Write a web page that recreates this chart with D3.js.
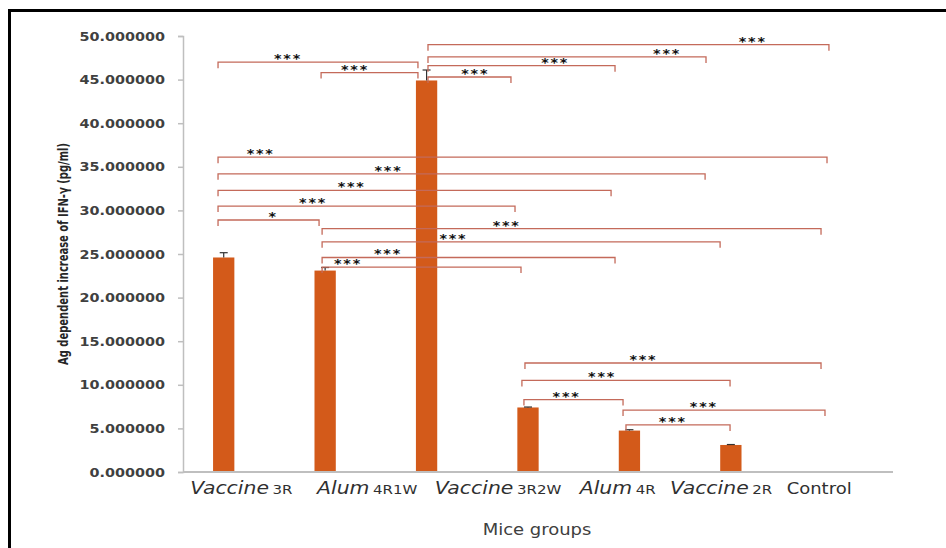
<!DOCTYPE html>
<html><head><meta charset="utf-8">
<script src="https://cdn.jsdelivr.net/npm/d3@7"></script>
<style>html,body{margin:0;padding:0;background:#fff;} svg{display:block}</style>
</head><body><svg id="chart" width="946" height="548"></svg>
<script>
// ---- data ----
const groups = ["G1", "G2", "G3", "G4", "G5", "G6", "G7"];
const means  = [24.6, 23.1, 44.9, 7.4, 4.75, 3.1, 0];
const errors = [0.55, 0.35, 1.2, 0.05, 0.1, 0.05, 0];
const yTicks = [0, 5, 10, 15, 20, 25, 30, 35, 40, 45, 50];
const labelMain   = ["Vaccine", "Alum", "Vaccine", "Alum", "Vaccine", "Control"];
const labelSuffix = ["3R", "4R1W", "3R2W", "4R", "2R", ""];
const labelItalic = [true, true, true, true, true, false];
const labelSlot   = [0.17, 1.42, 2.58, 4.01, 4.90, 6.05];
const bracketFrom  = [0, 1, 2, 2, 2, 2, 0, 0, 0, 0, 0, 1, 1, 1, 1, 3, 3, 3, 4, 4];
const bracketTo    = [2, 2, 6, 5, 4, 3, 6, 5, 4, 3, 1, 6, 5, 4, 3, 6, 5, 4, 6, 5];
const bracketLevel = [47.0, 45.8, 49.0, 47.6, 46.6, 45.3, 36.1, 34.2, 32.3, 30.5, 28.9, 27.9, 26.4, 24.6, 23.5, 12.5, 10.5, 8.3, 7.1, 5.4];
const bracketStars = ["***","***","***","***","***","***","***","***","***","***","*","***","***","***","***","***","***","***","***","***"];
// annotation layout (slot units): small end offsets and star placement along each bracket
const bracketFromShift = [-0.056, -0.04, 0.014, 0.014, 0.014, 0.014, -0.056, -0.056, -0.056, -0.056, -0.056, -0.03, -0.03, -0.03, -0.03, -0.03, -0.06, -0.04, -0.063, -0.034];
const bracketToShift   = [-0.085, -0.085, -0.033, -0.245, -0.142, -0.168, -0.052, -0.254, -0.181, -0.128, -0.06, -0.111, -0.106, -0.142, -0.069, -0.111, -0.008, -0.063, -0.072, -0.008];
const bracketStarAt = [0.35, 0.35, 0.81, 0.86, 0.68, 0.57, 0.07, 0.35, 0.34, 0.32, 0.545, 0.37, 0.33, 0.225, 0.13, 0.40, 0.385, 0.43, 0.40, 0.45];
const yTitle = "Ag dependent increase of IFN-\u03b3 (pg/ml)";
const xTitle = "Mice groups";

// ---- layout ----
const svg = d3.select("#chart");
const stretch = 1.2;
const axisX0 = 183, axisX1 = 893;
const x = d3.scaleBand().domain(groups).range([173, 883]).padding(0);
const slotX = d3.scaleLinear().domain([0, groups.length]).range([173, 883]);
const y = d3.scaleLinear().domain([0, 50]).range([472, 36]);
const barW = x.bandwidth() * 0.21;
const cx = i => x(groups[i]) + x.bandwidth() / 2;

// frame
svg.append("rect").attr("x", 9.5).attr("y", 10.5).attr("width", 1000).attr("height", 1000)
  .attr("fill", "none").attr("stroke", "#000").attr("stroke-width", 3);

// y axis
const yAxis = d3.axisLeft(y).tickValues(yTicks).tickFormat(d3.format(".6f")).tickSize(5).tickPadding(13);
const gy = svg.append("g").attr("transform", `translate(${axisX0},0)`).call(yAxis);
gy.select(".domain").attr("stroke", "#bfbfbf").attr("stroke-width", 1.5);
gy.selectAll(".tick line").attr("stroke", "#bfbfbf").attr("stroke-width", 1.5);
gy.selectAll(".tick text")
  .attr("font-family", "DejaVu Sans, sans-serif").attr("font-weight", "bold")
  .attr("font-size", 12).attr("fill", "#404040")
  .attr("x", null).attr("dy", null)
  .attr("dominant-baseline", "central")
  .attr("transform", `translate(-18,0) scale(${stretch},1)`);

// bars
svg.append("g").selectAll("rect").data(means).join("rect")
  .attr("x", (d, i) => cx(i) - barW / 2)
  .attr("width", barW)
  .attr("y", d => y(d))
  .attr("height", d => y(0) - y(d))
  .attr("fill", "#d35a1a");

// error bars
const eg = svg.append("g").attr("stroke", "#333").attr("stroke-width", 1.2);
means.forEach((m, i) => {
  if (errors[i] <= 0) return;
  eg.append("line").attr("x1", cx(i)).attr("x2", cx(i)).attr("y1", y(m)).attr("y2", y(m + errors[i]));
  eg.append("line").attr("x1", cx(i) - 4).attr("x2", cx(i) + 4).attr("y1", y(m + errors[i])).attr("y2", y(m + errors[i]));
});

// x axis line
svg.append("line").attr("x1", axisX0).attr("x2", axisX1).attr("y1", y(0)).attr("y2", y(0))
  .attr("stroke", "#bfbfbf").attr("stroke-width", 2);

// brackets
const bg = svg.append("g");
bracketFrom.forEach((f, k) => {
  const x0 = slotX(f + 0.5 + bracketFromShift[k]);
  const x1 = slotX(bracketTo[k] + 0.5 + bracketToShift[k]);
  const yy = y(bracketLevel[k]);
  bg.append("path")
    .attr("d", `M${x0},${yy + 6}V${yy}H${x1}V${yy + 6}`)
    .attr("fill", "none").attr("stroke", "#c46a5a").attr("stroke-width", 1.3);
  const sx = x0 + bracketStarAt[k] * (x1 - x0);
  bg.append("text")
    .attr("transform", `translate(${sx},${yy + 1}) scale(${stretch},1)`)
    .attr("text-anchor", "middle")
    .attr("font-family", "DejaVu Sans, sans-serif").attr("font-weight", "bold")
    .attr("font-size", 12).attr("letter-spacing", 1.5).attr("fill", "#111")
    .text(bracketStars[k]);
});

// category labels
labelMain.forEach((t, i) => {
  const tx = svg.append("text")
    .attr("transform", `translate(${slotX(labelSlot[i])},494) scale(${stretch},1)`)
    .attr("font-family", "DejaVu Sans, sans-serif").attr("fill", "#303030");
  tx.append("tspan").attr("font-size", labelItalic[i] ? 17 : 15)
    .attr("font-style", labelItalic[i] ? "italic" : "normal").text(t);
  if (labelSuffix[i]) tx.append("tspan").attr("font-size", 12.5).attr("dx", 3).text(labelSuffix[i]);
});

// axis titles
svg.append("text")
  .attr("transform", `translate(537,535) scale(${stretch},1)`)
  .attr("text-anchor", "middle")
  .attr("font-family", "DejaVu Sans, sans-serif").attr("font-size", 15).attr("fill", "#404040")
  .text(xTitle);

svg.append("text")
  .attr("transform", "translate(68,254) rotate(-90)")
  .attr("text-anchor", "middle")
  .attr("font-family", "'DejaVu Sans Condensed', 'DejaVu Sans', sans-serif")
  .attr("font-weight", "bold").attr("font-size", 13.5).attr("fill", "#262626")
  .attr("textLength", 222).attr("lengthAdjust", "spacingAndGlyphs")
  .text(yTitle);
</script>
</body></html>
